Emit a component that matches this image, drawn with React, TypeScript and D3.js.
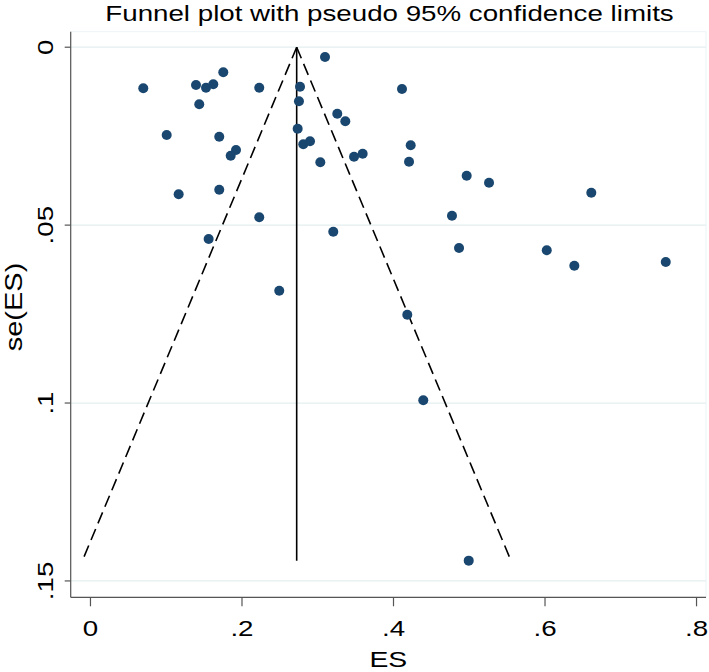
import React from 'react';
import * as d3 from 'd3';

// Study effect sizes (ES) and their standard errors se(ES)
const esValues = [
  0.0697, 0.1393, 0.1525, 0.1621, 0.1753, 0.2228, 0.2766, 0.3096, 0.2752, 0.1436,
  0.3258, 0.3364, 0.2735, 0.1006, 0.17, 0.2809, 0.2898, 0.1921, 0.1851, 0.3479,
  0.3593, 0.3034, 0.1164, 0.17, 0.2228, 0.156, 0.3205, 0.2492, 0.4112, 0.4227,
  0.4205, 0.4966, 0.5261, 0.6611, 0.4772, 0.4865, 0.6023, 0.6387, 0.7594, 0.4182,
  0.4393, 0.4993,
];
const seValues = [
  0.01155, 0.01062, 0.01138, 0.01043, 0.00705, 0.01138, 0.0111, 0.00275, 0.0152, 0.01605,
  0.01869, 0.02083, 0.02291, 0.02468, 0.02515, 0.02729, 0.02645, 0.02889, 0.0305, 0.03078,
  0.02993, 0.03235, 0.04134, 0.04005, 0.04781, 0.05391, 0.05186, 0.06844, 0.01175, 0.02757,
  0.03218, 0.03612, 0.03808, 0.04089, 0.04736, 0.05644, 0.05708, 0.06141, 0.06037, 0.07518,
  0.09924, 0.1443,
];
const pooledES = 0.2722;
const xTicks = [0, 0.2, 0.4, 0.6, 0.8];
const xTickLabels = ['0', '.2', '.4', '.6', '.8'];
const yTicks = [0, 0.05, 0.1, 0.15];
const yTickLabels = ['0', '.05', '.1', '.15'];
const title = 'Funnel plot with pseudo 95% confidence limits';
const xTitle = 'ES';
const yTitle = 'se(ES)';

const W = 709;
const H = 672;
const L = 70.7, R = 706, T = 31.7, B = 597.3;
const FONT = '"Liberation Sans", Arial, Helvetica, sans-serif';
const SX = 1.26;

export default function App() {
  const x = d3.scaleLinear().domain([-0.0261, 0.8125]).range([L, R]);
  const y = d3.scaleLinear().domain([-0.00436, 0.1546]).range([T, B]);
  const seMax = d3.max(seValues) as number;
  const line = d3.line<[number, number]>().x(d => x(d[0])).y(d => y(d[1]));
  const leftLimit: [number, number][] = [[pooledES, 0], [pooledES - 1.96 * seMax, seMax]];
  const rightLimit: [number, number][] = [[pooledES, 0], [pooledES + 1.96 * seMax, seMax]];
  const centre: [number, number][] = [[pooledES, 0], [pooledES, seMax]];

  return (
    <div style={{ position: 'absolute', left: 0, top: 0 }}>
      <svg width={W} height={H} style={{ display: 'block', background: '#fff' }}>
        {/* plot region faint border */}
        <rect x={L} y={T} width={R - L} height={B - T} fill="#fff" stroke="#edf3f5" strokeWidth={1} />
        {/* gridlines */}
        {yTicks.map((t, i) => (
          <line key={'g' + i} x1={L} x2={R} y1={y(t)} y2={y(t)} stroke="#e3eef0" strokeWidth={1.2} />
        ))}
        {/* funnel */}
        <path d={line(leftLimit) || ''} fill="none" stroke="#000" strokeWidth={1.6} strokeDasharray="12 6" />
        <path d={line(rightLimit) || ''} fill="none" stroke="#000" strokeWidth={1.6} strokeDasharray="12 6" />
        <path d={line(centre) || ''} fill="none" stroke="#000" strokeWidth={1.6} />
        {/* points */}
        {esValues.map((v, i) => (
          <circle key={'p' + i} cx={x(v)} cy={y(seValues[i])} r={5} fill="#1a476f" />
        ))}
        {/* axes */}
        <line x1={L} x2={L} y1={T} y2={B} stroke="#555" strokeWidth={1.2} />
        <line x1={L} x2={R} y1={B} y2={B} stroke="#555" strokeWidth={1.2} />
        {yTicks.map((t, i) => (
          <g key={'yt' + i}>
            <line x1={L - 6} x2={L} y1={y(t)} y2={y(t)} stroke="#555" strokeWidth={1.2} />
            <text
              transform={`translate(53.3,${y(t)}) rotate(-90) scale(${SX},1)`}
              textAnchor="middle"
              fontFamily={FONT}
              fontSize={22}
              fill="#000"
            >
              {yTickLabels[i]}
            </text>
          </g>
        ))}
        {xTicks.map((t, i) => (
          <g key={'xt' + i}>
            <line x1={x(t)} x2={x(t)} y1={B} y2={B + 9} stroke="#555" strokeWidth={1.2} />
            <text
              transform={`translate(${x(t)},635.7) scale(${SX},1)`}
              textAnchor="middle"
              fontFamily={FONT}
              fontSize={22}
              fill="#000"
            >
              {xTickLabels[i]}
            </text>
          </g>
        ))}
        {/* titles */}
        <text
          transform={`translate(389.5,20.7) scale(${SX},1)`}
          textAnchor="middle"
          fontFamily={FONT}
          fontSize={22}
          fill="#000"
        >
          {title}
        </text>
        <text
          transform={`translate(${(L + R) / 2},666.5) scale(${SX},1)`}
          textAnchor="middle"
          fontFamily={FONT}
          fontSize={22.5}
          fill="#000"
        >
          {xTitle}
        </text>
        <text
          transform={`translate(22,307) rotate(-90) scale(${SX},1)`}
          textAnchor="middle"
          fontFamily={FONT}
          fontSize={23}
          fill="#000"
        >
          {yTitle}
        </text>
      </svg>
    </div>
  );
}
